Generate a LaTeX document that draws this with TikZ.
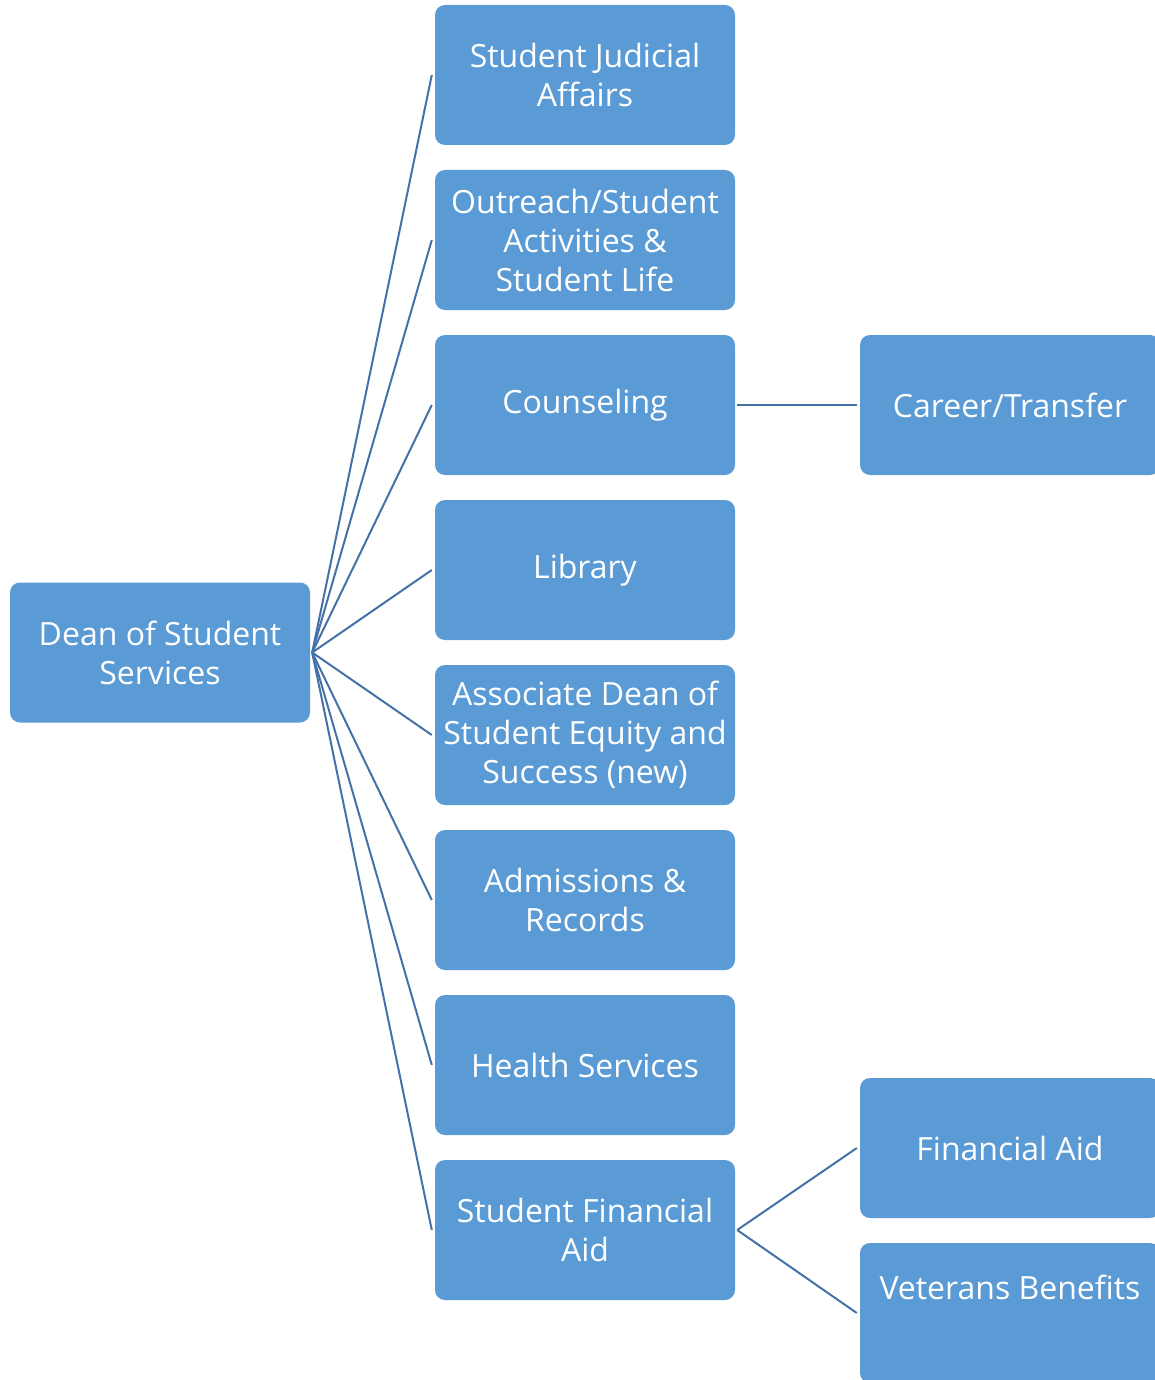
\documentclass[tikz,border=0pt]{standalone}
\usepackage{fontspec}
\setmainfont{Open Sans}
\definecolor{boxblue}{HTML}{5B9BD5}
\definecolor{linkblue}{HTML}{4472A8}
\begin{document}
\begin{tikzpicture}[x=1pt,y=-1pt,
  unit/.style={fill=boxblue, rounded corners=10pt, minimum width=300pt,
    minimum height=140pt, text=white, align=center, inner sep=0pt,
    font=\fontsize{32}{39}\selectfont},
  link/.style={draw=linkblue, line width=2pt}]
\useasboundingbox (0,0) rectangle (1155,1380);
\clip (0,0) rectangle (1155,1380);

% head of the division
\node[unit] (dean) at (160,652.5) {Dean of Student\\Services};

% departments reporting to the dean
\node[unit] (judicial)  at (585,75)   {Student Judicial\\Affairs};
\node[unit] (outreach)  at (585,240)  {Outreach/Student\\Activities \&\\Student Life};
\node[unit] (counsel)   at (585,405)  {Counseling};
\node[unit] (library)   at (585,570)  {Library};
\node[unit] (equity)    at (585,735)  {Associate Dean of\\Student Equity and\\Success (new)};
\node[unit] (admission) at (585,900)  {Admissions \&\\Records};
\node[unit] (health)    at (585,1065) {Health Services};
\node[unit] (sfa)       at (585,1230) {Student Financial\\Aid};

% sub-units
\node[unit] (career)    at (1010,405)  {Career/Transfer};
\node[unit] (finaid)    at (1010,1148) {Financial Aid};
\node[unit] (veterans)  at (1010,1313) {Veterans Benefits\\\strut};

% reporting lines
\foreach \d in {judicial,outreach,counsel,library,equity,admission,health,sfa}
  \draw[link] ([xshift=2pt]dean.east) -- ([xshift=-3pt]\d.west);
\draw[link] ([xshift=2pt]counsel.east) -- ([xshift=-3pt]career.west);
\draw[link] ([xshift=2pt]sfa.east) -- ([xshift=-3pt]finaid.west);
\draw[link] ([xshift=2pt]sfa.east) -- ([xshift=-3pt]veterans.west);
\end{tikzpicture}
\end{document}
